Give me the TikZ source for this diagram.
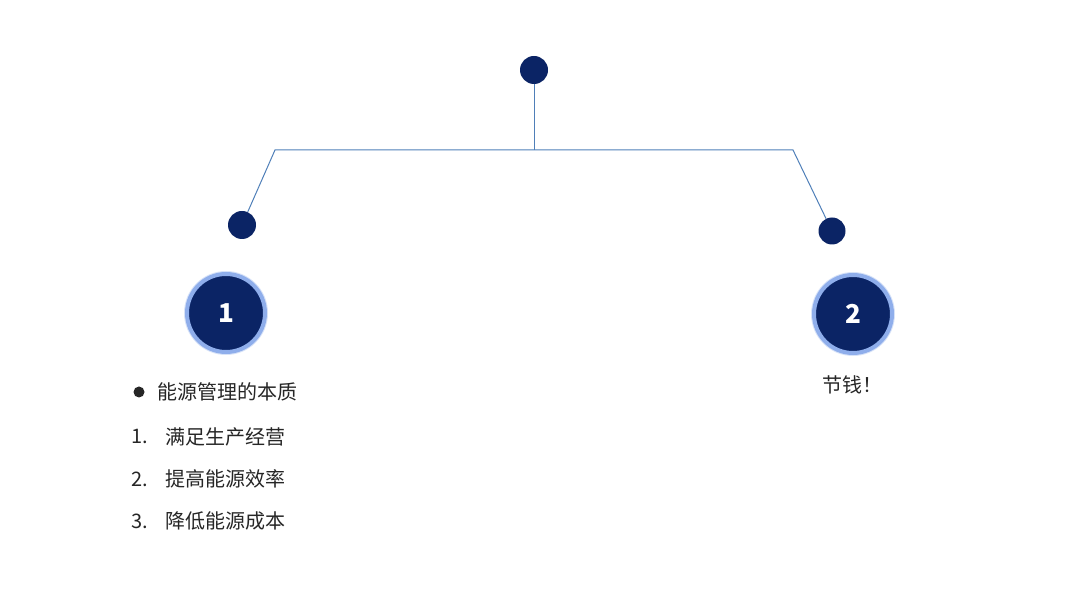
\documentclass[tikz,border=0pt]{standalone}
\usepackage{fontspec}
\setmainfont{Noto Sans CJK SC}
\usetikzlibrary{positioning}
\definecolor{navy}{HTML}{0B2465}
\definecolor{branch}{HTML}{4F7FB8}
\definecolor{glow}{HTML}{8FAEEB}
\definecolor{textgray}{HTML}{262626}

\begin{document}
\begin{tikzpicture}[x=1pt,y=-1pt,
  dot/.style={circle,fill=navy,inner sep=0pt,minimum size=28pt},
  badge/.style={circle,fill=navy,draw=glow,line width=4pt,inner sep=0pt,
    minimum size=78pt,text=white,font=\fontsize{26}{26}\selectfont\bfseries},
  item/.style={anchor=west,text=textgray,font=\fontsize{20}{20}\selectfont}]
  \useasboundingbox (0,0) rectangle (1080,612);

  % branch dots
  \node[dot] (top) at (534,70) {};
  \node[dot] (left) at (242,225) {};
  \node[dot,minimum size=27pt] (right) at (832,231) {};
  \coordinate (mid) at (534,150);
  \coordinate (lcorner) at (275,150);
  \coordinate (rcorner) at (793,150);

  % connectors
  \draw[branch,line width=1pt] (top) -- (mid);
  \draw[branch,line width=1pt] (left) -- (lcorner) -- (rcorner) -- (right);

  % numbered badges
  \fill[glow!35] (226,313) circle (42);
  \node[badge] (one) at (226,313) {1};
  \fill[glow!35] (853,314) circle (42);
  \node[badge] (two) at (853,314) {2};

  % left list
  \fill[textgray] (139,392) circle (5.5);
  \node[item] (essence) at (154,392) {能源管理的本质};
  \node[item] (n1) at (128,437) {1.};
  \node[item] (t1) at (162,437) {满足生产经营};
  \node[item] (n2) at (128,479) {2.};
  \node[item] (t2) at (162,479) {提高能源效率};
  \node[item] (n3) at (128,521) {3.};
  \node[item] (t3) at (162,521) {降低能源成本};

  % right text
  \node[item,anchor=center] (save) at (852,385) {节钱！};
\end{tikzpicture}
\end{document}
